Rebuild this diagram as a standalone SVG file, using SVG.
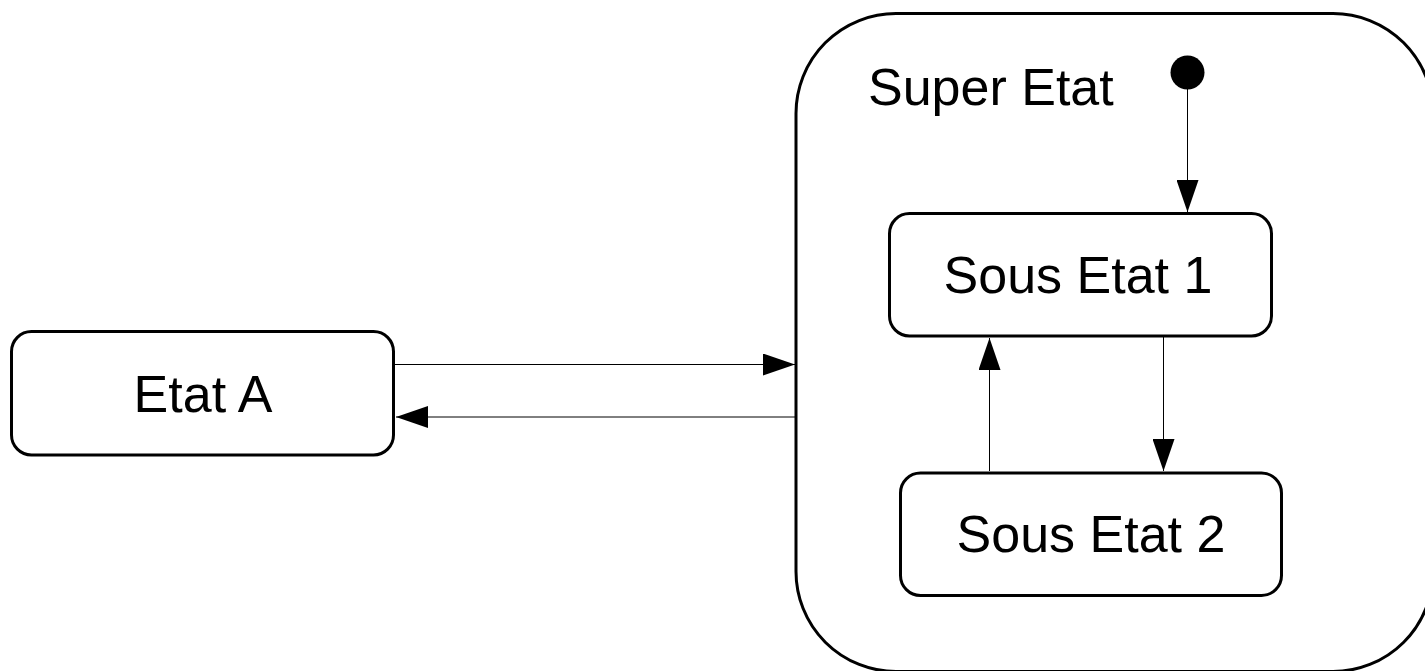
<svg xmlns="http://www.w3.org/2000/svg" width="1425" height="671" viewBox="0 0 1425 671">
<defs>
<marker id="arr" markerUnits="userSpaceOnUse" markerWidth="32" markerHeight="22" refX="32" refY="11" orient="auto">
<path d="M0,0 L32,11 L0,22 z" fill="#000"/>
</marker>
<style>
.state{fill:#fff;stroke:#000;stroke-width:3}
.lbl{font-family:"Liberation Sans",Arial,sans-serif;font-size:52px;fill:#000}
.edge{fill:none;stroke:#000;stroke-width:1;marker-end:url(#arr)}
</style>
</defs>
<rect width="1425" height="671" fill="#fff"/>
<g id="super-etat">
<rect class="state" x="796" y="13.5" width="637" height="658" rx="100" ry="100"/>
<text class="lbl" x="868" y="105">Super Etat</text>
</g>
<g id="initial">
<circle cx="1187.5" cy="72.5" r="17" fill="#000"/>
</g>
<g id="etat-a">
<rect class="state" x="11.5" y="331.5" width="382" height="123.5" rx="20" ry="20"/>
<text class="lbl" x="203" y="412" text-anchor="middle">Etat A</text>
</g>
<g id="sous-etat-1">
<rect class="state" x="889.5" y="213.5" width="382" height="122.5" rx="20" ry="20"/>
<text class="lbl" x="1078" y="293" text-anchor="middle">Sous Etat 1</text>
</g>
<g id="sous-etat-2">
<rect class="state" x="900.5" y="473" width="381" height="122.5" rx="20" ry="20"/>
<text class="lbl" x="1091" y="552" text-anchor="middle">Sous Etat 2</text>
</g>
<g id="connectors">
<line class="edge" x1="1187.5" y1="89" x2="1187.5" y2="212"/>
<line class="edge" x1="395" y1="364.5" x2="795" y2="364.5"/>
<line class="edge" x1="795" y1="417" x2="396" y2="417"/>
<line class="edge" x1="1163.5" y1="337" x2="1163.5" y2="471"/>
<line class="edge" x1="989.5" y1="471" x2="989.5" y2="338"/>
</g>
</svg>
